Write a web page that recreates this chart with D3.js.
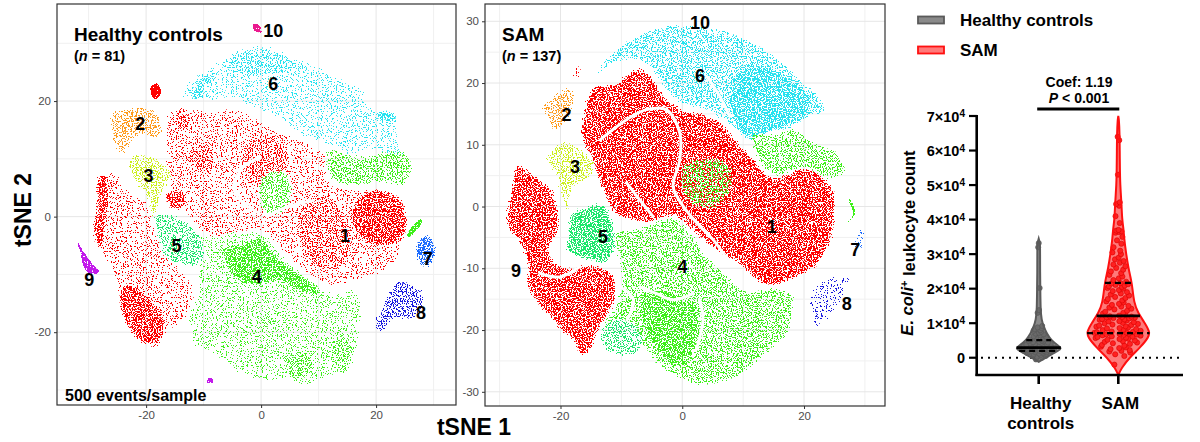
<!DOCTYPE html>
<html>
<head>
<meta charset="utf-8">
<script src="https://cdn.jsdelivr.net/npm/d3@7"></script>
<style>
  body { margin: 0; background: #fff; }
  svg text { font-family: "Liberation Sans", Arial, sans-serif; }
</style>
</head>
<body>
<svg id="fig"></svg>
<script>
// ---- tSNE panels: ticks ----
const tsneXTicks = [-20, 0, 20];
const healthyYTicks = [-20, 0, 20];
const samYTicks = [-30, -20, -10, 0, 10, 20, 30];

// ---- cluster outlines (tSNE units); dens = event density ----
const healthyRegions = [
  { cl: 1, dens: 's', pts: [[-28.0,7.5],[-25.1,7.7],[-23.4,5.1],[-19.9,2.8],[-18.1,-1.8],[-16.4,-6.4],[-12.9,-9.9],[-11.2,-13.3],[-12.9,-18.0],[-16.4,-20.3],[-17.6,-23.2],[-20.5,-22.6],[-23.4,-19.7],[-25.1,-14.5],[-25.7,-10.5],[-28.0,-6.4],[-29.2,-4.1],[-28.6,0.5],[-28.0,4.0]] },
  { cl: 1, dens: 's', pts: [[-16.4,17.9],[-12.9,19.0],[-8.3,18.4],[-4.8,19.0],[-0.8,17.3],[3.3,15.0],[7.9,13.2],[11.4,10.9],[12.0,6.3],[16.1,5.1],[21.3,5.1],[25.3,2.3],[25.9,-1.2],[24.8,-5.3],[23.0,-8.7],[19.5,-10.5],[15.5,-11.6],[11.4,-12.2],[6.8,-9.3],[3.3,-6.4],[0.4,-2.9],[-3.7,-2.9],[-7.7,-4.1],[-10.6,-2.9],[-12.9,0],[-15.2,1.7],[-16.4,5.1],[-17.0,11.5],[-17.0,15.0]] },
  { cl: 1, dens: 'd', pts: [[-28.6,6.9],[-26.8,7.5],[-26.2,2.8],[-26.8,-1.8],[-27.4,-5.9],[-28.6,-5.3],[-29.4,-2.4],[-28.8,2.8]] },
  { cl: 1, dens: 'd', pts: [[-24.5,-12.2],[-22.2,-11.6],[-18.7,-14.5],[-16.4,-18.0],[-17.6,-22.0],[-20.5,-22.3],[-23.1,-19.6],[-24.8,-15.6]] },
  { cl: 1, dens: 'd', pts: [[16.1,2.8],[20.1,4.9],[24.2,3.4],[25.6,0],[24.8,-4.1],[21.3,-5.3],[17.2,-4.1],[15.5,-0.6]] },
  { cl: 1, dens: 'm', pts: [[-3.1,13.2],[1.0,14.4],[4.5,12.7],[5.0,8.6],[2.1,5.1],[-1.3,5.1],[-3.7,8.6]] },
  { cl: 1, dens: 'm', pts: [[-12.9,11.5],[-9.4,13.2],[-7.7,10.3],[-8.3,6.9],[-11.2,7.5],[-13.2,9.2]] },
  { cl: 1, dens: 'd', pts: [[-16.7,4.0],[-14.7,5.1],[-12.9,3.4],[-13.5,1.1],[-16.1,1.4]] },
  { cl: 1, dens: 'm', pts: [[-16.1,18.1],[-12.9,19.0],[-11.8,16.7],[-12.9,14.4],[-15.8,15.0]] },
  { cl: 1, dens: 'm', pts: [[6.8,2.8],[12.6,3.4],[15.5,0],[16.1,-6.4],[12.6,-9.9],[8.5,-8.7],[6.2,-4.1]] },
  { cl: 1, dens: 'x', pts: [[-19.2,22.5],[-18.0,23.0],[-17.4,21.5],[-18.2,20.3],[-19.0,20.8]] },
  { cl: 4, dens: 's', pts: [[-12.9,-4.1],[-8.3,-2.9],[-4.8,-2.4],[-0.8,-2.4],[1.0,-2.9],[3.9,-6.4],[7.9,-10.5],[12.0,-12.8],[16.1,-12.2],[17.8,-15.7],[17.2,-20.3],[16.1,-26.1],[12.6,-27.8],[6.8,-29.5],[4.5,-28.4],[1.0,-28.9],[-2.5,-27.8],[-6.0,-26.1],[-8.9,-23.7],[-11.8,-22.6],[-12.9,-17.4],[-11.2,-12.2],[-11.8,-8.1]] },
  { cl: 4, dens: 'd', pts: [[-7.1,-5.3],[-2.5,-4.1],[-0.2,-2.9],[2.7,-6.4],[5.6,-8.7],[10.3,-12.2],[11.4,-14.0],[6.8,-13.4],[3.3,-11.6],[-1.3,-12.2],[-4.8,-11.0],[-6.5,-8.1]] },
  { cl: 4, dens: 'm', pts: [[3.9,-23.7],[7.9,-22.6],[9.7,-26.1],[6.8,-28.9],[4.5,-27.8]] },
  { cl: 4, dens: 'm', pts: [[11.7,-21.4],[15.5,-20.3],[16.6,-23.7],[14.3,-27.8],[12.0,-26.1]] },
  { cl: 4, dens: 'm', pts: [[11.4,12.1],[15.5,10.9],[19.5,10.9],[23.0,12.1],[25.9,10.9],[26.5,7.5],[24.8,5.1],[21.3,5.7],[16.1,5.1],[12.0,6.3]] },
  { cl: 4, dens: 'm', pts: [[0.4,7.5],[3.9,8.1],[5.6,5.1],[3.9,0.5],[0.4,0.5],[-0.8,4.0]] },
  { cl: 4, dens: 'x', pts: [[25.3,-3.2],[27.7,-0.4],[28.1,-0.7],[25.7,-3.6]] },
  { cl: 5, dens: 'm', pts: [[-18.7,0.5],[-15.2,0.5],[-10.6,-2.9],[-9.4,-6.4],[-10.6,-8.7],[-12.9,-8.7],[-16.4,-7.6],[-18.1,-4.1]] },
  { cl: 3, dens: 'm', pts: [[-23.4,10.3],[-19.9,10.9],[-16.4,9.2],[-15.2,6.9],[-16.9,4.0],[-18.1,0.5],[-19.3,-0.6],[-19.9,2.8],[-21.6,5.1],[-23.0,7.5]] },
  { cl: 2, dens: 'm', pts: [[-26.3,17.9],[-23.4,19.0],[-20.5,19.3],[-17.6,17.9],[-17.0,14.4],[-18.1,13.2],[-21.0,13.8],[-22.8,12.1],[-23.9,10.3],[-25.7,12.1],[-26.3,15.0]] },
  { cl: 6, dens: 's', pts: [[-14.1,20.2],[-12.9,23.6],[-9.4,25.9],[-4.8,28.8],[-0.2,30.0],[5.0,28.2],[9.7,26.5],[12.6,24.8],[17.2,22.5],[20.1,19.0],[23.6,17.3],[24.2,13.2],[25.3,10.3],[22.4,10.3],[19.0,11.5],[15.5,10.3],[12.0,12.1],[8.5,13.2],[5.0,15.0],[1.6,17.3],[-1.3,18.4],[-4.8,20.2],[-8.3,19.6],[-11.2,20.7]] },
  { cl: 6, dens: 'm', pts: [[-6.0,27.5],[-0.5,29.6],[5.0,27.8],[8.0,26.2],[4.0,24.5],[-2.0,24.0],[-6.5,25.0]] },
  { cl: 6, dens: 'd', pts: [[-12.3,20.2],[-11.2,23.6],[-8.3,24.8],[-7.1,23.6],[-9.4,22.5],[-10.0,20.2]] },
  { cl: 6, dens: 'd', pts: [[20.1,18.4],[23.6,17.9],[23.6,16.1],[20.1,16.7]] },
  { cl: 7, dens: 'd', pts: [[27.1,-4.1],[28.8,-2.9],[30.0,-3.5],[30.6,-6.4],[29.4,-8.7],[27.7,-8.7],[26.8,-7.0]] },
  { cl: 8, dens: 'm', pts: [[19.5,-19.5],[21.3,-14.3],[24.2,-10.5],[26.5,-11.7],[28.2,-12.8],[27.9,-16.9],[25.9,-18.0],[23.0,-18.0],[21.3,-20.3]] },
  { cl: 9, dens: 'x', pts: [[-32.1,-4.1],[-30.6,-6.4],[-29.4,-8.1],[-28.2,-9.3],[-28.6,-9.9],[-30.3,-9.6],[-31.1,-8.1],[-31.4,-6.4]] },
  { cl: 9, dens: 'x', pts: [[-9.4,-28.0],[-8.4,-28.0],[-8.4,-28.8],[-9.4,-28.8]] },
  { cl: 10, dens: 'x', pts: [[-1.3,33.4],[-0.2,33.1],[0.1,31.9],[-0.75,31.9],[-1.45,32.5]] }
];

const samRegions = [
  { cl: 1, dens: 'd', pts: [[-27.2,7.0],[-24.5,5.4],[-21.2,2.7],[-20.1,-3.2],[-21.7,-7.6],[-19.0,-9.7],[-15.2,-9.2],[-11.3,-10.8],[-10.8,-15.1],[-13.5,-20.0],[-15.2,-23.8],[-16.8,-24.3],[-17.9,-22.2],[-21.7,-18.4],[-25.6,-13.0],[-25.6,-9.7],[-27.2,-5.4],[-28.8,-3.8],[-29.1,-1.1],[-28.3,2.7]] },
  { cl: 1, dens: 'd', pts: [[-16.3,15.7],[-14.6,19.5],[-11.3,20.0],[-7.0,22.7],[-4.8,21.1],[-2.6,17.8],[0.7,15.7],[4.0,15.1],[6.7,13.5],[9.5,10.3],[12.2,7.6],[14.9,4.9],[20.4,6.5],[24.8,3.2],[25.3,-1.6],[24.2,-6.5],[22.1,-9.7],[18.2,-11.9],[13.8,-13.0],[9.5,-9.7],[5.1,-7.0],[1.8,-4.3],[-1.5,-1.6],[-4.8,-2.7],[-9.1,-2.2],[-11.3,-1.1],[-13.5,3.2],[-15.2,7.6],[-16.8,11.9]] },
  { cl: 1, dens: 's', pts: [[-17.9,23.0],[-16.3,22.5],[-16.8,20.0],[-18.0,20.5]] },
  { cl: 6, dens: 'm', pts: [[-14.6,21.1],[-11.3,25.4],[-7.0,28.1],[-1.5,29.7],[4.0,29.2],[8.4,28.4],[14.9,24.9],[19.3,21.1],[23.2,17.3],[23.7,15.1],[20.4,14.1],[17.7,12.4],[14.4,11.9],[11.1,10.3],[8.4,12.4],[6.2,14.1],[3.4,15.7],[0.2,16.2],[-2.6,18.4],[-4.8,21.6],[-7.0,23.2],[-9.1,23.5],[-12.4,22.2],[-14.1,20.5]] },
  { cl: 6, dens: 'd', pts: [[7.8,21.1],[12.8,23.2],[18.2,21.1],[21.5,17.3],[20.4,14.1],[14.9,11.9],[11.1,10.8],[8.4,13.0]] },
  { cl: 4, dens: 'm', pts: [[11.1,11.9],[14.9,11.9],[18.2,13.0],[21.5,10.8],[25.9,8.6],[27.0,5.4],[23.7,4.3],[20.4,5.9],[14.9,4.9],[12.2,7.6]] },
  { cl: 4, dens: 'm', pts: [[0.2,7.0],[4.0,8.1],[7.8,7.0],[8.4,3.2],[6.2,0],[1.8,0],[-0.4,3.2]] },
  { cl: 4, dens: 'm', pts: [[-11.3,-4.3],[-7.0,-3.2],[-1.5,-1.6],[1.8,-4.3],[4.0,-7.6],[7.3,-10.8],[10.6,-13.5],[14.9,-13.0],[18.2,-14.1],[17.7,-20.5],[14.9,-23.2],[9.5,-27.6],[6.7,-28.6],[2.9,-29.2],[-0.4,-28.1],[-4.2,-25.9],[-7.0,-22.7],[-9.1,-24.3],[-12.4,-23.8],[-13.5,-20.0],[-10.8,-15.1],[-10.2,-10.8]] },
  { cl: 4, dens: 'd', pts: [[-7.0,-14.1],[-4.2,-13.0],[-0.4,-14.1],[2.9,-16.2],[2.9,-20.5],[1.8,-24.9],[-0.9,-26.5],[-4.2,-23.8],[-6.4,-20.0]] },
  { cl: 4, dens: 'x', pts: [[25.4,-3.9],[28.0,-1.4],[27.3,1.2],[27.6,1.2],[28.4,-1.2],[25.8,-3.6]] },
  { cl: 5, dens: 'd', pts: [[-18.4,-1.1],[-16.3,0],[-13.0,0.5],[-11.3,-2.2],[-10.8,-6.5],[-12.4,-9.2],[-16.3,-8.6],[-19.0,-7.6],[-19.0,-4.3]] },
  { cl: 5, dens: 'm', pts: [[-13.0,-18.9],[-9.1,-17.8],[-6.4,-20.5],[-7.0,-23.8],[-11.3,-24.3],[-13.5,-22.2]] },
  { cl: 3, dens: 'm', pts: [[-21.7,9.2],[-19.5,10.8],[-16.8,9.7],[-14.1,7.0],[-15.2,4.3],[-17.4,3.2],[-18.4,0],[-19.0,-2.2],[-20.1,1.6],[-21.2,5.4],[-22.8,8.1]] },
  { cl: 2, dens: 'm', pts: [[-21.7,17.8],[-19.0,19.5],[-17.4,18.4],[-17.9,15.7],[-19.5,13.0],[-21.2,11.9],[-22.3,14.1],[-23.4,16.2]] },
  { cl: 7, dens: 's', pts: [[29.2,-3.2],[30.3,-3.8],[30.0,-6.5],[28.6,-8.1],[27.5,-7.0]] },
  { cl: 8, dens: 's', pts: [[20.4,-14.1],[23.7,-11.4],[28.1,-11.4],[27.5,-13.0],[25.9,-16.2],[24.2,-18.4],[21.5,-20.0],[21.0,-17.3]] }
];

// empty channels between groups of events
const healthyGaps = [
  [[-0.2,0.5],[-3.6,2.8],[-4.8,5.1],[-3.1,8.6],[-0.2,10.3]],
  [[1.0,0],[4.5,1.7],[9.1,2.8]]
];
const samGaps = [
  [[-13.5,10.8],[-9.1,14.1],[-5.9,15.7],[-2.6,15.7],[-0.4,11.9],[-0.4,7.6],[-1.5,3.2],[0.2,0],[2.9,-3.2],[5.1,-5.4],[7.8,-9.2]],
  [[-9.1,3.8],[-7.0,1.1],[-4.8,-1.6]],
  [[-23.4,-10.8],[-20.1,-11.4],[-16.8,-9.7]],
  [[-10.2,-13.0],[-8.0,-15.1],[-9.1,-18.4]],
  [[-7.0,-13.0],[-4.2,-14.1],[-1.5,-15.1],[1.8,-14.1]],
  [[2.9,-15.1],[3.4,-18.4],[2.3,-23.2]],
  [[4.0,21.1],[6.2,17.8],[7.8,14.6]]
];

// cluster number labels [cluster, x, y]
const healthyLabels = [[10,2.1,32.2],[6,2.1,23.0],[2,-21.0,16.1],[3,-19.6,7.2],[5,-14.7,-5.0],[4,-0.75,-10.3],[1,14.6,-3.2],[7,29.0,-7.3],[8,27.8,-16.6],[9,-29.9,-10.9]];
const samLabels = [[10,2.9,29.8],[6,2.9,21.2],[2,-19.0,14.9],[3,-17.6,6.5],[5,-13.0,-4.9],[4,0.05,-9.7],[1,14.7,-3.2],[7,28.4,-7.0],[8,27.0,-15.7],[9,-27.3,-10.4]];

// ---- violin panel ----
const groups = ['Healthy controls', 'SAM'];
const countTicks = [0, 1, 2, 3, 4, 5, 6, 7]; // x 10^4
// counts in units of 10^4
const healthyCounts = [-0.05,0.0,0.03,0.05,0.07,0.08,0.1,0.11,0.12,0.13,0.14,0.15,0.15,0.16,0.17,0.17,0.18,0.18,0.19,0.19,
  0.2,0.2,0.21,0.21,0.22,0.22,0.23,0.23,0.24,0.24,0.25,0.25,0.26,0.26,0.27,0.27,0.28,0.28,0.29,0.29,
  0.3,0.31,0.32,0.33,0.34,0.35,0.36,0.37,0.38,0.39,0.4,0.41,0.42,0.43,0.44,0.45,0.46,0.48,0.49,0.5,
  0.52,0.55,0.58,0.6,0.62,0.65,0.68,0.7,0.72,0.75,0.78,0.8,0.83,0.86,0.88,0.92,1.3,1.38,2.02,3.2,3.32];
const samCounts = [-0.2,0.05,0.1,0.15,0.18,0.2,0.22,0.25,0.28,0.3,0.32,0.35,0.37,0.4,0.42,0.44,0.46,0.48,0.5,0.52,0.54,0.55,0.57,0.58,0.6,0.61,0.62,0.64,0.65,0.66,0.67,0.68,0.69,0.7,
  0.72,0.73,0.74,0.75,0.76,0.78,0.8,0.81,0.83,0.85,0.86,0.88,0.9,0.91,0.93,0.95,0.96,0.98,1.0,1.01,1.03,1.05,1.06,1.08,1.1,1.11,1.12,1.14,1.15,1.16,1.17,1.18,1.19,1.2,
  1.22,1.25,1.28,1.3,1.33,1.36,1.4,1.42,1.45,1.48,1.5,1.53,1.56,1.6,1.63,1.66,1.7,1.73,1.76,1.8,1.83,1.86,1.9,1.93,1.96,2.0,2.02,2.05,2.07,2.09,2.11,2.13,2.15,2.16,
  2.2,2.25,2.3,2.35,2.4,2.45,2.5,2.55,2.6,2.65,2.7,2.75,2.8,2.85,2.9,3.0,3.05,3.1,3.2,3.3,3.4,3.5,3.62,3.64,3.66,3.68,3.7,3.9,4.1,4.4,4.45,4.5,5.3,6.3,6.4];
// violin outline: [value x10^4, relative density]
const healthyProfile = [[-0.12,0],[0.0,0.3],[0.1,0.55],[0.2,0.85],[0.27,1.0],[0.35,0.85],[0.5,0.55],[0.7,0.35],[0.9,0.22],[1.1,0.12],[1.4,0.08],[2.0,0.07],[2.5,0.06],[3.0,0.06],[3.3,0.06],[3.45,0]];
const samProfile = [[-0.5,0],[-0.3,0.1],[0,0.35],[0.3,0.7],[0.6,0.97],[0.75,1.0],[1.0,0.85],[1.3,0.62],[1.6,0.5],[2.0,0.45],[2.2,0.42],[2.6,0.32],[3.0,0.25],[3.5,0.18],[3.7,0.17],[4.0,0.12],[4.5,0.1],[5.0,0.06],[5.5,0.05],[6.0,0.045],[6.5,0.04],[6.9,0.02],[7.0,0]];
// [Q1, median, Q3] x10^4
const healthyQuart = [0.20, 0.29, 0.51];
const samQuart = [0.71, 1.21, 2.17];
const coefLabel = 'Coef: 1.19';

// ---- drawing ----
const palette = { 1: '#ff0000', 2: '#ff9a1a', 3: '#ccf01a', 4: '#3ef01a', 5: '#1ae86b', 6: '#26e3f0', 7: '#1a6bff', 8: '#1a1ae0', 9: '#c21aeb', 10: '#eb1a8f' };
const svg = d3.select('#fig').attr('width', 1200).attr('height', 442);
svg.append('rect').attr('width', 1200).attr('height', 442).attr('fill', '#fff');
const defs = svg.append('defs');

// speckle texture: a noise mask plus a soft edge gives the look of many tiny event dots
const speckle = { s: [0.655, 2.2], m: [0.62, 2.2], d: [0.585, 2.2], x: [0.52, 0.5] };
Object.entries(speckle).forEach(([k, [t, blurSd]]) => {
  const f = defs.append('filter').attr('id', 'speck-' + k)
    .attr('x', '-10%').attr('y', '-10%').attr('width', '120%').attr('height', '120%')
    .attr('color-interpolation-filters', 'sRGB');
  f.append('feTurbulence').attr('type', 'fractalNoise').attr('baseFrequency', 0.8)
    .attr('numOctaves', 2).attr('seed', 4).attr('result', 'noise');
  f.append('feColorMatrix').attr('in', 'noise').attr('type', 'matrix')
    .attr('values', '0 0 0 0 0  0 0 0 0 0  0 0 0 0 0  1 0 0 0 0').attr('result', 'na');
  f.append('feGaussianBlur').attr('in', 'SourceGraphic').attr('stdDeviation', blurSd).attr('result', 'blur');
  f.append('feComposite').attr('in', 'na').attr('in2', 'blur').attr('operator', 'arithmetic')
    .attr('k1', 0).attr('k2', 0.5).attr('k3', 0.35).attr('k4', 0).attr('result', 'comb');
  f.append('feColorMatrix').attr('in', 'comb').attr('type', 'matrix')
    .attr('values', `0 0 0 0 0  0 0 0 0 0  0 0 0 0 0  0 0 0 25 ${-25 * t}`).attr('result', 'mask');
  f.append('feComposite').attr('in', 'blur').attr('in2', 'mask').attr('operator', 'in').attr('result', 'dots');
  f.append('feComponentTransfer').attr('in', 'dots')
    .append('feFuncA').attr('type', 'linear').attr('slope', 8).attr('intercept', 0);
});

function drawTsne(cfg) {
  const { x, y, yTicks, regions, gaps, labels, title, n, id } = cfg;
  const [x0, x1] = x.range(), [y0, y1] = y.range();
  const g = svg.append('g');

  defs.append('clipPath').attr('id', 'clip-' + id)
    .append('rect').attr('x', x0).attr('y', y1).attr('width', x1 - x0).attr('height', y0 - y1);

  // grid (major + minor)
  const grid = g.append('g');
  const yStep = yTicks[1] - yTicks[0];
  grid.selectAll('line.v').data(d3.range(-30, 31, 10)).join('line')
    .attr('x1', d => x(d)).attr('x2', d => x(d)).attr('y1', y0).attr('y2', y1)
    .attr('stroke', d => tsneXTicks.includes(d) ? '#e6e6e6' : '#f0f0f0').attr('stroke-width', 1);
  grid.selectAll('line.h').data(d3.range(-30, 36, yStep / 2).filter(d => y(d) > y1 && y(d) < y0)).join('line')
    .attr('y1', d => y(d)).attr('y2', d => y(d)).attr('x1', x0).attr('x2', x1)
    .attr('stroke', d => yTicks.includes(d) ? '#e6e6e6' : '#f0f0f0').attr('stroke-width', 1);

  const blob = d3.line().x(d => x(d[0])).y(d => y(d[1])).curve(d3.curveCatmullRomClosed.alpha(0.5));
  const open = d3.line().x(d => x(d[0])).y(d => y(d[1])).curve(d3.curveCatmullRom.alpha(0.5));

  const pg = g.append('g').attr('clip-path', `url(#clip-${id})`);
  pg.selectAll('path.region').data(regions).join('path')
    .attr('class', 'region')
    .attr('d', d => blob(d.pts))
    .attr('fill', d => palette[d.cl])
    .attr('filter', d => `url(#speck-${d.dens})`);
  pg.selectAll('path.gap').data(gaps).join('path')
    .attr('class', 'gap').attr('d', open)
    .attr('fill', 'none').attr('stroke', '#fff').attr('stroke-width', 3)
    .attr('stroke-linecap', 'round');

  // cluster numbers
  g.selectAll('text.cl').data(labels).join('text')
    .attr('x', d => x(d[1])).attr('y', d => y(d[2]))
    .attr('text-anchor', 'middle').attr('dy', '0.36em')
    .attr('font-size', 18).attr('font-weight', 'bold').attr('fill', '#000')
    .text(d => d[0]);

  // frame
  g.append('rect').attr('x', x0).attr('y', y1).attr('width', x1 - x0).attr('height', y0 - y1)
    .attr('fill', 'none').attr('stroke', '#333').attr('stroke-width', 1.2);

  const fmt = d => String(d);
  const ax = g.append('g').attr('transform', `translate(0,${y0})`)
    .call(d3.axisBottom(x).tickValues(tsneXTicks).tickSize(3).tickPadding(3).tickFormat(fmt));
  const ay = g.append('g').attr('transform', `translate(${x0},0)`)
    .call(d3.axisLeft(y).tickValues(yTicks).tickSize(3).tickPadding(3).tickFormat(fmt));
  [ax, ay].forEach(a => {
    a.select('.domain').remove();
    a.selectAll('line').attr('stroke', '#333');
    a.selectAll('text').attr('fill', '#4d4d4d').attr('font-size', 11.5)
      .style('font-family', '"Liberation Sans", Arial, sans-serif');
  });

  // panel title
  g.append('text').attr('x', x0 + 17).attr('y', 41)
    .attr('font-size', 19).attr('font-weight', 'bold').text(title);
  const t = g.append('text').attr('x', x0 + 17).attr('y', 61)
    .attr('font-size', 14.5).attr('font-weight', 'bold');
  t.append('tspan').text('(');
  t.append('tspan').attr('font-style', 'italic').text('n');
  t.append('tspan').text(` = ${n})`);
  return g;
}

const xH = d3.scaleLinear().domain([-35.5, 33.9]).range([57, 456]);
const yH = d3.scaleLinear().domain([-32.6, 36.8]).range([405, 4]);
const xS = d3.scaleLinear().domain([-32.4, 33.3]).range([485, 885]);
const yS = d3.scaleLinear().domain([-32.3, 32.8]).range([406, 4]);

const gH = drawTsne({ x: xH, y: yH, yTicks: healthyYTicks, regions: healthyRegions, gaps: healthyGaps, labels: healthyLabels, title: 'Healthy controls', n: healthyCounts.length, id: 'h' });
drawTsne({ x: xS, y: yS, yTicks: samYTicks, regions: samRegions, gaps: samGaps, labels: samLabels, title: 'SAM', n: samCounts.length, id: 's' });

gH.append('text').attr('x', 65).attr('y', 401)
  .attr('font-size', 16).attr('font-weight', 'bold').text('500 events/sample');

// shared axis titles
svg.append('text').attr('transform', 'translate(31,210) rotate(-90)')
  .attr('text-anchor', 'middle').attr('font-size', 23).attr('font-weight', 'bold').text('tSNE 2');
svg.append('text').attr('x', 474).attr('y', 435)
  .attr('text-anchor', 'middle').attr('font-size', 23).attr('font-weight', 'bold').text('tSNE 1');

// ---- violin plot ----
const xV = d3.scalePoint().domain(groups).range([1038.7, 1118.3]);
const yV = d3.scaleLinear().domain([-0.5, 7]).range([375, 116]);
const vg = svg.append('g');

const styles = {
  'Healthy controls': { fill: '#8a8a8a', stroke: '#5a5a5a', dot: '#6a6a6a', dotStroke: '#555', half: 23 },
  'SAM': { fill: '#ff7a7a', stroke: '#ff1010', dot: '#ff2020', dotStroke: '#d80000', half: 31.5 }
};
const violins = [
  { grp: 'Healthy controls', prof: healthyProfile, vals: healthyCounts, q: healthyQuart },
  { grp: 'SAM', prof: samProfile, vals: samCounts, q: samQuart }
];
function widthAt(prof, v) {
  for (let i = 1; i < prof.length; i++) {
    if (v <= prof[i][0]) {
      const [a, wa] = prof[i - 1], [b, wb] = prof[i];
      return wa + (wb - wa) * (v - a) / (b - a);
    }
  }
  return 0;
}

// zero reference line
vg.append('line').attr('x1', 981).attr('x2', 1180).attr('y1', yV(0)).attr('y2', yV(0))
  .attr('stroke', '#000').attr('stroke-width', 2).attr('stroke-dasharray', '2,5');

violins.forEach(v => {
  const s = styles[v.grp], cx = xV(v.grp);
  const w = d3.scaleLinear().domain([0, 1]).range([0, s.half]);
  const area = d3.area().curve(d3.curveBasis)
    .y(d => yV(d[0])).x0(d => cx - w(d[1])).x1(d => cx + w(d[1]));
  vg.append('path').attr('d', area(v.prof)).attr('fill', s.fill).attr('stroke', 'none');

  // points spread inside the violin, ordered by value
  const spread = [-0.8, 0.55, -0.25, 0.85, -0.6, 0.2, 0.7, -0.45, 0.05, 0.4, -0.9, 0.3];
  const sorted = v.vals.slice().sort((a, b) => a - b);
  vg.append('g').selectAll('circle').data(sorted).join('circle')
    .attr('cx', (d, i) => cx + w(widthAt(v.prof, d)) * 0.85 * spread[i % spread.length])
    .attr('cy', d => yV(d))
    .attr('r', 2.6)
    .attr('fill', s.dot).attr('stroke', s.dotStroke).attr('stroke-width', 0.6);

  vg.append('path').attr('d', area(v.prof)).attr('fill', 'none')
    .attr('stroke', s.stroke).attr('stroke-width', 2);

  // quartile lines
  v.q.forEach((q, i) => {
    const hw = w(widthAt(v.prof, q));
    vg.append('line').attr('x1', cx - hw).attr('x2', cx + hw).attr('y1', yV(q)).attr('y2', yV(q))
      .attr('stroke', '#000').attr('stroke-width', i === 1 ? 2.8 : 2.2)
      .attr('stroke-dasharray', i === 1 ? null : '6,4');
  });
});

// axes
vg.append('line').attr('x1', 976.7).attr('x2', 976.7).attr('y1', yV(7) - 1).attr('y2', 376)
  .attr('stroke', '#000').attr('stroke-width', 2.6);
vg.append('line').attr('x1', 975.5).attr('x2', 1183).attr('y1', 375).attr('y2', 375)
  .attr('stroke', '#000').attr('stroke-width', 2.6);
vg.selectAll('line.yt').data(countTicks).join('line')
  .attr('x1', 969).attr('x2', 977).attr('y1', d => yV(d)).attr('y2', d => yV(d))
  .attr('stroke', '#000').attr('stroke-width', 2.2);
vg.selectAll('line.xt').data(groups).join('line')
  .attr('x1', d => xV(d)).attr('x2', d => xV(d)).attr('y1', 375).attr('y2', 384)
  .attr('stroke', '#000').attr('stroke-width', 2.6);

const yl = vg.selectAll('text.yl').data(countTicks).join('text')
  .attr('x', 965).attr('y', d => yV(d)).attr('dy', '0.38em')
  .attr('text-anchor', 'end').attr('font-size', 14.5).attr('font-weight', 'bold');
yl.each(function (d) {
  const t = d3.select(this);
  if (d === 0) { t.text('0'); return; }
  t.append('tspan').text(`${d}\u00d710`);
  t.append('tspan').attr('dy', '-0.45em').attr('font-size', 10).text('4');
});

// category labels
const catLines = { 'Healthy controls': ['Healthy', 'controls'], 'SAM': ['SAM'] };
groups.forEach(gp => {
  catLines[gp].forEach((ln, i) => {
    vg.append('text').attr('x', xV(gp) + 2).attr('y', 409 + i * 20)
      .attr('text-anchor', 'middle').attr('font-size', 17).attr('font-weight', 'bold').text(ln);
  });
});

// y title
const yt = vg.append('text').attr('transform', 'translate(913,243) rotate(-90)')
  .attr('text-anchor', 'middle').attr('font-size', 16.5).attr('font-weight', 'bold');
yt.append('tspan').attr('font-style', 'italic').text('E. coli');
yt.append('tspan').attr('dy', '-0.45em').attr('font-size', 11).text('+');
yt.append('tspan').attr('dy', '0.45em').text(' leukocyte count');

// significance annotation
vg.append('line').attr('x1', xV('Healthy controls') - 1.5).attr('x2', xV('SAM') + 1)
  .attr('y1', 109).attr('y2', 109).attr('stroke', '#000').attr('stroke-width', 3);
vg.append('text').attr('x', 1079).attr('y', 87).attr('text-anchor', 'middle')
  .attr('font-size', 14).attr('font-weight', 'bold').text(coefLabel);
const pt = vg.append('text').attr('x', 1079).attr('y', 103).attr('text-anchor', 'middle')
  .attr('font-size', 14).attr('font-weight', 'bold');
pt.append('tspan').attr('font-style', 'italic').text('P');
pt.append('tspan').text(' < 0.001');

// legend
groups.forEach((gp, i) => {
  const s = styles[gp];
  const ly = 20 + i * 30;
  vg.append('rect').attr('x', 918).attr('y', ly - 3.5).attr('width', 26).attr('height', 7)
    .attr('fill', s.fill).attr('stroke', s.stroke).attr('stroke-width', 1.8);
  vg.append('text').attr('x', 960).attr('y', ly).attr('dy', '0.36em')
    .attr('font-size', 17).attr('font-weight', 'bold').text(gp);
});
</script>
</body>
</html>
